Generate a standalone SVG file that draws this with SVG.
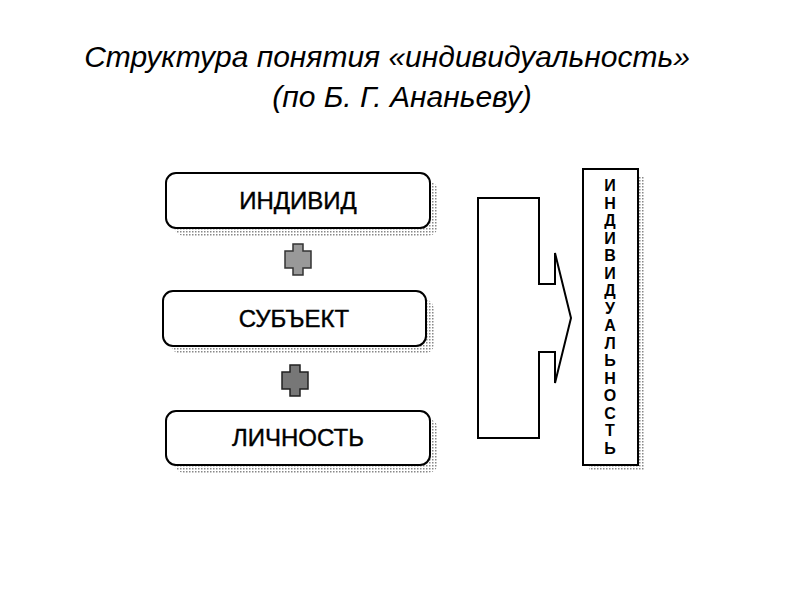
<svg xmlns="http://www.w3.org/2000/svg" width="800" height="600" viewBox="0 0 800 600">
<defs>
<pattern id="dots" width="3" height="3" patternUnits="userSpaceOnUse"><rect width="3" height="3" fill="#fff"/><rect width="1.5" height="1.5" fill="#888"/></pattern>
<style>
.box{fill:#fff;stroke:#000;stroke-width:2}
.sh{fill:url(#dots)}
.lbl{font-family:"Liberation Sans",Arial,sans-serif;font-size:24px;text-anchor:middle;stroke:#000;stroke-width:0.4}
.t{font-family:"Liberation Sans",Arial,sans-serif;font-style:italic;font-size:30px;text-anchor:middle}
.v{font-family:"Liberation Sans",Arial,sans-serif;font-weight:bold;font-size:16px;text-anchor:middle}
</style>
</defs>
<rect width="800" height="600" fill="#fff"/>
<text class="t" x="387" y="67">Структура понятия «индивидуальность»</text>
<text class="t" x="402" y="107">(по Б. Г. Ананьеву)</text>
<g id="individ"><rect class="sh" x="174" y="181" width="264" height="55" rx="10"/><rect class="box" x="166" y="173" width="264" height="55" rx="10"/><text class="lbl" x="298" y="209">ИНДИВИД</text></g>
<g id="subject"><rect class="sh" x="171" y="299" width="263" height="55" rx="10"/><rect class="box" x="163" y="291" width="263" height="55" rx="10"/><text class="lbl" x="294" y="327">СУБЪЕКТ</text></g>
<g id="lichnost"><rect class="sh" x="174" y="419" width="264" height="54" rx="10"/><rect class="box" x="166" y="411" width="264" height="54" rx="10"/><text class="lbl" x="298" y="446">ЛИЧНОСТЬ</text></g>
<g id="plus1"><path d="M293,244h10v7h8v17h-8v7h-10v-7h-8v-17h8z" fill="#999" stroke="#333" stroke-width="1.5"/></g>
<g id="plus2"><path d="M290,365h10v7h8v17h-8v7h-10v-7h-8v-17h8z" fill="#777" stroke="#222" stroke-width="1.5"/></g>
<g id="connectors"><path d="M478,198H539V284H555V253L571,318L555,383V352H539V438H478Z" fill="#fff" stroke="#000" stroke-width="2"/></g>
<g id="individualnost"><rect class="sh" x="589" y="176" width="56" height="295"/><rect class="box" x="583" y="169" width="55" height="296"/>
<text class="v"><tspan x="610" y="191">И</tspan><tspan x="610" y="208.5">Н</tspan><tspan x="610" y="226">Д</tspan><tspan x="610" y="243.5">И</tspan><tspan x="610" y="261">В</tspan><tspan x="610" y="278.5">И</tspan><tspan x="610" y="296">Д</tspan><tspan x="610" y="313.5">У</tspan><tspan x="610" y="331">А</tspan><tspan x="610" y="348.5">Л</tspan><tspan x="610" y="366">Ь</tspan><tspan x="610" y="383.5">Н</tspan><tspan x="610" y="401">О</tspan><tspan x="610" y="418.5">С</tspan><tspan x="610" y="436">Т</tspan><tspan x="610" y="453.5">Ь</tspan></text></g>
</svg>
